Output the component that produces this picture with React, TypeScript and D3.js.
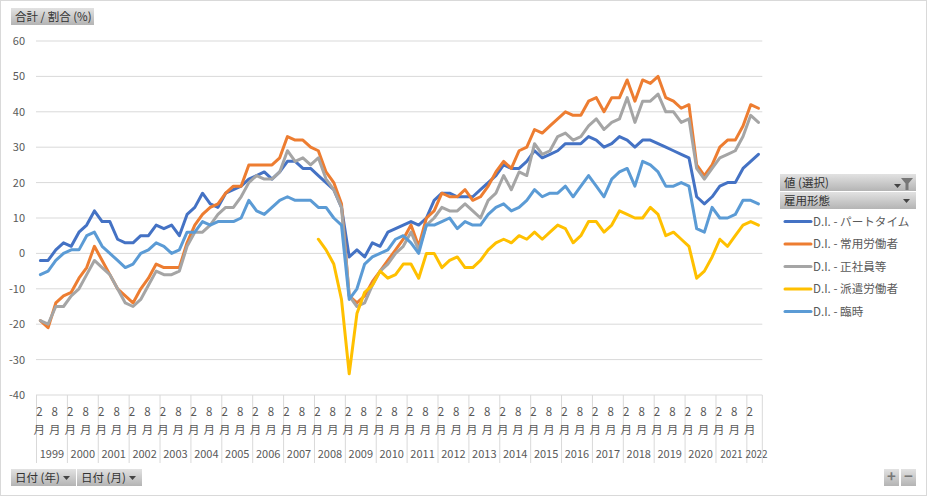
import * as d3 from 'd3';

const years = ['1999', '2000', '2001', '2002', '2003', '2004', '2005', '2006', '2007', '2008', '2009', '2010', '2011', '2012', '2013', '2014', '2015', '2016', '2017', '2018', '2019', '2020', '2021', '2022'];
const months = [2, 5, 8, 11];
const yTicks = [60, 50, 40, 30, 20, 10, 0, -10, -20, -30, -40];

const partTime = [-2, -2, 1, 3, 2, 6, 8, 12, 9, 9, 4, 3, 3, 5, 5, 8, 7, 8, 5, 11, 13, 17, 14, 13, 17, 18, 19, 21, 22, 23, 21, 23, 26, 26, 24, 24, 22, 20, 18, 13, -1, 1, -1, 3, 2, 6, 7, 8, 9, 8, 10, 15, 17, 17, 16, 16, 16, 18, 20, 22, 25, 24, 24, 26, 29, 27, 28, 29, 31, 31, 31, 33, 32, 30, 31, 33, 32, 30, 32, 32, 31, 30, 29, 28, 27, 16, 14, 16, 19, 20, 20, 24, 26, 28];
const regular = [-19, -21, -14, -12, -11, -7, -4, 2, -2, -6, -10, -12, -14, -10, -7, -3, -4, -4, -4, 3, 8, 11, 13, 14, 17, 19, 19, 25, 25, 25, 25, 27, 33, 32, 32, 30, 29, 23, 20, 14, -12, -14, -12, -8, -5, -2, 1, 4, 8, 2, 10, 12, 17, 16, 16, 18, 15, 16, 19, 23, 26, 24, 29, 30, 35, 34, 36, 38, 40, 39, 39, 43, 44, 40, 44, 44, 49, 43, 49, 48, 50, 44, 43, 41, 42, 25, 22, 25, 30, 32, 32, 36, 42, 41];
const fullTime = [-19, -20, -15, -15, -12, -10, -6, -2, -4, -6, -10, -14, -15, -13, -9, -5, -6, -6, -5, 2, 6, 6, 8, 11, 13, 13, 16, 20, 22, 21, 21, 23, 29, 26, 27, 25, 27, 21, 18, 13, -12, -15, -14, -9, -5, -3, 0, 2, 6, 1, 8, 10, 13, 12, 12, 14, 12, 10, 15, 17, 22, 18, 23, 22, 31, 28, 29, 33, 34, 32, 33, 36, 38, 35, 37, 38, 44, 37, 43, 43, 45, 40, 40, 37, 38, 24, 21, 24, 27, 28, 29, 33, 39, 37];
const dispatched = [null, null, null, null, null, null, null, null, null, null, null, null, null, null, null, null, null, null, null, null, null, null, null, null, null, null, null, null, null, null, null, null, null, null, null, null, 4, 1, -3, -13, -34, -17, -11, -9, -5, -7, -6, -3, -3, -7, 0, 0, -4, -2, -1, -4, -4, -2, 1, 3, 4, 3, 5, 4, 6, 4, 6, 8, 7, 3, 5, 9, 9, 6, 8, 12, 11, 10, 10, 13, 11, 5, 6, 4, 2, -7, -5, -1, 4, 2, 5, 8, 9, 8];
const temporary = [-6, -5, -2, 0, 1, 1, 5, 6, 2, 0, -2, -4, -3, 0, 1, 3, 2, 0, 1, 6, 6, 9, 8, 9, 9, 9, 10, 15, 12, 11, 13, 15, 16, 15, 15, 15, 13, 13, 10, 8, -13, -10, -3, -1, 0, 1, 4, 5, 3, 0, 8, 8, 9, 10, 7, 9, 8, 8, 11, 13, 14, 12, 13, 15, 18, 16, 17, 17, 19, 16, 19, 22, 19, 16, 21, 23, 24, 19, 26, 25, 23, 19, 19, 20, 19, 7, 6, 13, 10, 10, 11, 15, 15, 14];

const seriesNames = ['D.I. - パートタイム', 'D.I. - 常用労働者', 'D.I. - 正社員等', 'D.I. - 派遣労働者', 'D.I. - 臨時'];
const seriesColors = ['#4472c4', '#ed7d31', '#a5a5a5', '#ffc000', '#5b9bd5'];
const seriesValues: (number | null)[][] = [partTime, regular, fullTime, dispatched, temporary];

const periods = years.flatMap((y) => (y === '2022' ? months.slice(0, 2) : months).map((m) => `${y}-${m}`));

const font = '"Noto Sans CJK JP", "Noto Sans", sans-serif';
const textColor = '#595959';
const gridColor = '#d9d9d9';

const x = d3.scaleBand<string>().domain(periods).range([36.5, 762.3]);
const y = d3.scaleLinear().domain([-40, 60]).range([395, 41]);
const px = (p: string) => (x(p) as number) + x.bandwidth() / 2;

const line = d3
  .line<number | null>()
  .defined((d) => d !== null)
  .x((_, i) => px(periods[i]))
  .y((d) => y(d as number));

function Button({ bx, by, w, label, arrow }: { bx: number; by: number; w: number; label: string; arrow?: boolean }) {
  return (
    <g>
      <rect x={bx} y={by} width={w} height={17} fill="url(#btn)" />
      <text x={bx + 4} y={by + 13} fontSize={11.5} fill="#333">
        {label}
      </text>
      {arrow && <path d={`M${bx + w - 13},${by + 7}h7l-3.5,4z`} fill="#444" />}
    </g>
  );
}

function SmallButton({ bx, by, label }: { bx: number; by: number; label: string }) {
  return (
    <g>
      <rect x={bx} y={by} width={15} height={17} fill="url(#btn)" />
      <text x={bx + 7.5} y={by + 13} fontSize={15} fontWeight={700} fill="#777" textAnchor="middle">
        {label}
      </text>
    </g>
  );
}

export default function App() {
  const yearStep = x.bandwidth() * 4;
  const yearStarts = years.map((yr) => x(`${yr}-2`) as number);

  return (
    <svg width={927} height={496} style={{ position: 'absolute', left: 0, top: 0, background: '#fff' }} fontFamily={font}>
      <defs>
        <linearGradient id="btn" x1="0" y1="0" x2="0" y2="1">
          <stop offset="0" stopColor="#e2e2e2" />
          <stop offset="1" stopColor="#b4b4b4" />
        </linearGradient>
      </defs>
      <rect x={0.5} y={0.5} width={926} height={495} fill="none" stroke="#d9d9d9" />

      {yTicks.map((t) => (
        <g key={t}>
          <line x1={36} x2={762.3} y1={y(t)} y2={y(t)} stroke={gridColor} strokeWidth={1} />
          <text x={25} y={y(t) + 4} fontSize={11} fill={textColor} textAnchor="end">
            {t}
          </text>
        </g>
      ))}

      {/* multi level category axis */}
      {yearStarts.map((s, i) => (
        <g key={years[i]}>
          <line x1={s} x2={s} y1={395} y2={463} stroke={gridColor} />
          <text x={s + (i === 23 ? x.bandwidth() + 2 : yearStep / 2)} y={458} fontSize={i >= 22 ? 10 : 11} fill={textColor} textAnchor="middle">
            {years[i]}
          </text>
        </g>
      ))}
      <line x1={762.3} x2={762.3} y1={395} y2={463} stroke={gridColor} />
      {periods
        .filter((p) => p.endsWith('-2') || p.endsWith('-8'))
        .map((p) => (
          <g key={p} fontSize={11.5} fill={textColor} textAnchor="middle">
            <text x={px(p) - 1} y={415.5}>
              {p.split('-')[1]}
            </text>
            <text x={px(p) - 1} y={433.5}>
              月
            </text>
          </g>
        ))}

      {seriesValues.map((vals, i) => (
        <path key={seriesNames[i]} d={line(vals) as string} fill="none" stroke={seriesColors[i]} strokeWidth={3} strokeLinejoin="round" strokeLinecap="round" />
      ))}

      <Button bx={11} by={8} w={83} label="合計 / 割合 (%)" />
      <Button bx={11} by={469} w={65} label="日付 (年)" arrow />
      <Button bx={77} by={469} w={65} label="日付 (月)" arrow />
      <Button bx={780} by={174} w={136} label="値 (選択)" />
      <path d="M894,184h7l-3.5,4z" fill="#444" />
      <path d="M901,178h12l-4.5,5.5v6.5h-3v-6.5z" fill="#777" />
      <Button bx={780} by={192} w={136} label="雇用形態" arrow />
      <SmallButton bx={884} by={469} label="+" />
      <SmallButton bx={901} by={469} label="−" />

      {seriesNames.map((name, i) => {
        const ly = 221.5 + i * 22.5;
        return (
          <g key={name}>
            <line x1={785} x2={811} y1={ly} y2={ly} stroke={seriesColors[i]} strokeWidth={3} strokeLinecap="round" />
            <text x={813} y={ly + 4} fontSize={11.6} fill={textColor}>
              {name}
            </text>
          </g>
        );
      })}
    </svg>
  );
}
